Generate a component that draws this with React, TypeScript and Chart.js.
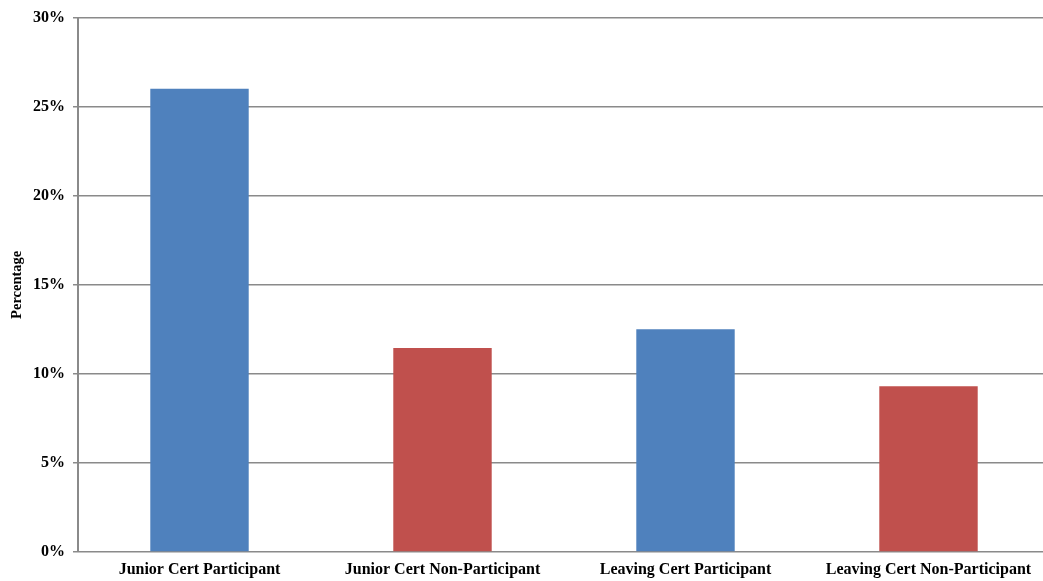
import React, { useEffect, useRef } from "react";
import { Chart, registerables } from "chart.js";

Chart.register(...registerables);

const categories = [
  "Junior Cert Participant",
  "Junior Cert Non-Participant",
  "Leaving Cert Participant",
  "Leaving Cert Non-Participant",
];
const percentages = [26.0, 11.45, 12.5, 9.3];
const barColors = ["#4F81BD", "#C0504D", "#4F81BD", "#C0504D"];
const yTicks = [0, 5, 10, 15, 20, 25, 30];

const FONT = "'Liberation Serif', 'Times New Roman', serif";
const GRID = "#8a8a8a";

export default function App() {
  const ref = useRef<HTMLCanvasElement | null>(null);

  useEffect(() => {
    if (!ref.current) return;
    const chart = new Chart(ref.current, {
      type: "bar",
      data: {
        labels: categories,
        datasets: [
          {
            data: percentages,
            backgroundColor: barColors,
            borderWidth: 0,
            categoryPercentage: 1,
            barPercentage: 0.405,
          },
        ],
      },
      options: {
        responsive: false,
        animation: false,
        layout: { padding: { top: 15, left: 0, right: 0, bottom: 0 } },
        plugins: {
          legend: { display: false },
          tooltip: { enabled: false },
        },
        scales: {
          x: {
            grid: { display: false, drawTicks: false },
            border: { display: false },
            ticks: {
              color: "#000",
              padding: 8,
              font: { family: FONT, size: 16, weight: "bold" },
            },
            afterFit: (scale: any) => {
              scale.height = 29;
            },
          },
          y: {
            min: 0,
            max: 30,
            afterBuildTicks: (scale: any) => {
              scale.ticks = yTicks.map((v) => ({ value: v }));
            },
            grid: {
              color: GRID,
              lineWidth: 1.5,
              tickLength: 5,
              tickColor: GRID,
            },
            border: { display: true, color: GRID, width: 2 },
            ticks: {
              color: "#000",
              padding: 8,
              font: { family: FONT, size: 16, weight: "bold" },
              callback: (v: any) => `${v}%`,
            },
            title: {
              display: true,
              text: "Percentage",
              color: "#000",
              padding: { top: 9, bottom: 10 },
              font: { family: FONT, size: 14.5, weight: "bold" },
            },
            afterFit: (scale: any) => {
              scale.width = 78;
            },
          },
        },
      },
    });
    return () => chart.destroy();
  }, []);

  return (
    <div
      style={{
        position: "fixed",
        left: 0,
        top: 0,
        width: 1043,
        height: 581,
        overflow: "hidden",
        background: "#fff",
      }}
    >
      <canvas ref={ref} width={1050} height={581} style={{ display: "block" }} />
    </div>
  );
}
